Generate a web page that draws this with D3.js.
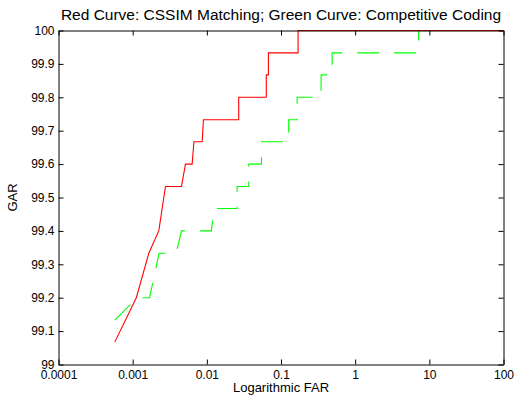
<!DOCTYPE html>
<html>
<head>
<meta charset="utf-8">
<script src="https://cdn.jsdelivr.net/npm/d3@7"></script>
<style>
  body { margin: 0; background: #fff; }
  text { font-family: "Liberation Sans", Arial, sans-serif; fill: #000; }
</style>
</head>
<body>
<script>
// ROC style data: FAR (log) vs GAR
var redFar = [0.000574, 0.00112, 0.00165, 0.00225, 0.00277, 0.00455, 0.00515, 0.00634, 0.0067, 0.00865,
              0.009, 0.0269, 0.0269, 0.0633, 0.0633, 0.0676, 0.0676, 0.170, 0.170, 100];
var redGar = [99.067, 99.2, 99.333, 99.4, 99.533, 99.533, 99.6, 99.6, 99.667, 99.667,
              99.733, 99.733, 99.8, 99.8, 99.867, 99.867, 99.933, 99.933, 100, 100];

var greenFar = [0.000574, 0.00115, 0.00169, 0.00227, 0.00385, 0.00455, 0.01153, 0.0124, 0.0256, 0.0256,
                0.0367, 0.0367, 0.0545, 0.0545, 0.127, 0.127, 0.165, 0.165, 0.347, 0.347,
                0.489, 0.489, 7.18, 7.18, 100];
var greenGar = [99.133, 99.2, 99.2, 99.333, 99.333, 99.4, 99.4, 99.467, 99.467, 99.533,
                99.533, 99.6, 99.6, 99.667, 99.667, 99.733, 99.733, 99.8, 99.8, 99.867,
                99.867, 99.933, 99.933, 100, 100];

var xTicks = [0.0001, 0.001, 0.01, 0.1, 1, 10, 100];
var xTickLabels = ["0.0001", "0.001", "0.01", "0.1", "1", "10", "100"];
var yTicks = [99, 99.1, 99.2, 99.3, 99.4, 99.5, 99.6, 99.7, 99.8, 99.9, 100];
var yTickLabels = ["99", "99.1", "99.2", "99.3", "99.4", "99.5", "99.6", "99.7", "99.8", "99.9", "100"];

var width = 514, height = 400;
var margin = {left: 58.5, right: 10.5, top: 30.5, bottom: 35.5};
var plotW = width - margin.left - margin.right;
var plotH = height - margin.top - margin.bottom;

var svg = d3.select("body").append("svg")
    .attr("width", width)
    .attr("height", height);

var g = svg.append("g")
    .attr("transform", "translate(" + margin.left + "," + margin.top + ")");

var xScale = d3.scaleLog().domain([0.0001, 100]).range([0, plotW]);
var yScale = d3.scaleLinear().domain([99, 100]).range([plotH, 0]);

//data lines
var redLine = d3.line()
    .x(function(d, i) { return xScale(redFar[i]); })
    .y(function(d) { return yScale(d); });

var greenLine = d3.line()
    .x(function(d, i) { return xScale(greenFar[i]); })
    .y(function(d) { return yScale(d); });

g.append("path")
    .datum(greenGar)
    .attr("d", greenLine)
    .attr("fill", "none")
    .attr("stroke", "#00ff00")
    .attr("stroke-width", 1.1)
    .attr("stroke-dasharray", "22,15");

g.append("path")
    .datum(redGar)
    .attr("d", redLine)
    .attr("fill", "none")
    .attr("stroke", "#ff0000")
    .attr("stroke-width", 1.1);

//axes, matlab style: ticks inside on all four sides
var xAxisBottom = d3.axisBottom(xScale).tickValues(xTicks)
    .tickFormat(function(d, i) { return xTickLabels[i]; })
    .tickSizeInner(-5).tickSizeOuter(0).tickPadding(6);
var xAxisTop = d3.axisTop(xScale).tickValues(xTicks).tickFormat("")
    .tickSizeInner(-5).tickSizeOuter(0);
var yAxisLeft = d3.axisLeft(yScale).tickValues(yTicks)
    .tickFormat(function(d, i) { return yTickLabels[i]; })
    .tickSizeInner(-5).tickSizeOuter(0).tickPadding(4);
var yAxisRight = d3.axisRight(yScale).tickValues(yTicks).tickFormat("")
    .tickSizeInner(-5).tickSizeOuter(0);

g.append("g").attr("transform", "translate(0," + plotH + ")").call(xAxisBottom);
g.append("g").call(xAxisTop);
g.append("g").call(yAxisLeft);
g.append("g").attr("transform", "translate(" + plotW + ",0)").call(yAxisRight);

g.selectAll(".domain").attr("stroke", "#000");
g.selectAll(".tick line").attr("stroke", "#000");
g.selectAll(".tick text")
    .style("font-family", "'Liberation Sans', Arial, sans-serif")
    .style("font-size", "12px")
    .attr("fill", "#000");

//labels
svg.append("text")
    .attr("x", margin.left + plotW / 2)
    .attr("y", 20)
    .attr("text-anchor", "middle")
    .style("font-size", "15.5px")
    .text("Red Curve: CSSIM Matching; Green Curve: Competitive Coding");

svg.append("text")
    .attr("x", margin.left + plotW / 2)
    .attr("y", 392)
    .attr("text-anchor", "middle")
    .style("font-size", "13px")
    .text("Logarithmic FAR");

svg.append("text")
    .attr("transform", "translate(17," + (margin.top + plotH / 2) + ") rotate(-90)")
    .attr("text-anchor", "middle")
    .style("font-size", "13px")
    .text("GAR");
</script>
</body>
</html>
